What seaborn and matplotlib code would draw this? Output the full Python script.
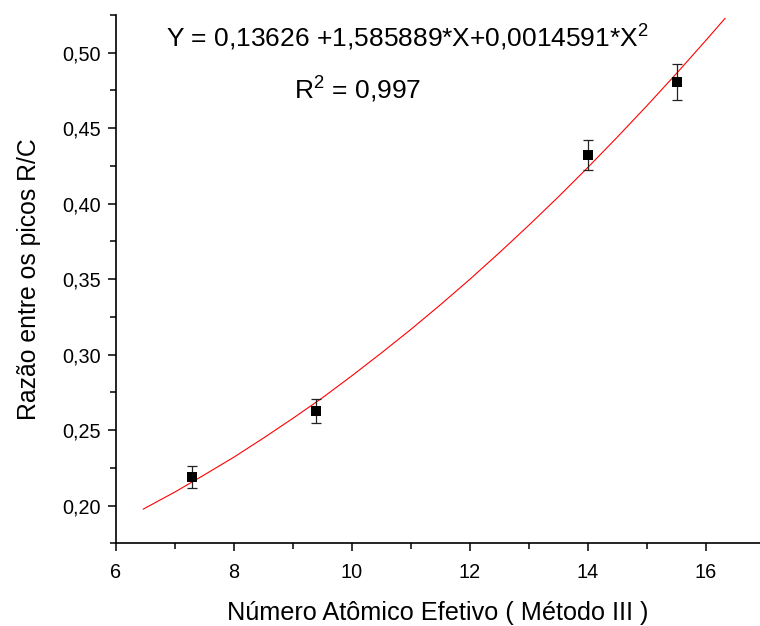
import numpy as np
import pandas as pd
import matplotlib
matplotlib.use("Agg")
import matplotlib.pyplot as plt
import seaborn as sns
from matplotlib.ticker import MultipleLocator

z_ef = [7.29, 9.39, 14.0, 15.51]
razao = [0.2188, 0.2629, 0.4322, 0.4808]
erro = [0.0071, 0.0080, 0.0100, 0.0118]

x_ajuste = [6.46, 7.0, 7.5, 8.0, 8.5, 9.0, 9.5, 10.0, 10.5, 11.0, 11.5, 12.0,
            12.5, 13.0, 13.5, 14.0, 14.5, 15.0, 15.5, 16.0, 16.33]
y_ajuste = [0.1976, 0.2090, 0.2204, 0.2321, 0.2447, 0.2578, 0.2714, 0.2860,
            0.3011, 0.3167, 0.3330, 0.3499, 0.3675, 0.3857, 0.4045, 0.4240,
            0.4441, 0.4648, 0.4861, 0.5081, 0.5229]

x_ticks = [6, 8, 10, 12, 14, 16]
y_ticks = [0.20, 0.25, 0.30, 0.35, 0.40, 0.45, 0.50]
y_labels = ["0,20", "0,25", "0,30", "0,35", "0,40", "0,45", "0,50"]

equacao = "Y = 0,13626 +1,585889*X+0,0014591*X$^2$"
r2 = "R$^2$ = 0,997"

sns.set_style("ticks")
plt.rcParams['font.family'] = ['Liberation Sans', 'DejaVu Sans']
plt.rcParams['mathtext.fontset'] = 'custom'
plt.rcParams['mathtext.rm'] = 'Liberation Sans'
plt.rcParams['text.color'] = 'black'
plt.rcParams['axes.labelcolor'] = 'black'
plt.rcParams['xtick.color'] = 'black'
plt.rcParams['ytick.color'] = 'black'
plt.rcParams['axes.edgecolor'] = 'black'

df_pontos = pd.DataFrame({'x': z_ef, 'y': razao})
df_curva = pd.DataFrame({'x': x_ajuste, 'y': y_ajuste})

fig = plt.figure(figsize=(7.6, 6.26), dpi=100)
ax = fig.add_axes([0.1526, 0.1321, 0.8474, 0.8439])

sns.lineplot(data=df_curva, x='x', y='y', color='red', linewidth=0.8, ax=ax)
ax.errorbar(z_ef, razao, yerr=erro, fmt='none', ecolor='#222222',
            elinewidth=0.9, capsize=3.6, capthick=0.9, zorder=3)
sns.scatterplot(data=df_pontos, x='x', y='y', marker='s', color='black',
                s=60, edgecolor='black', linewidth=0, ax=ax, zorder=4)

ax.set_xlim(6, 16.92)
ax.set_ylim(0.175, 0.525)
ax.set_xticks(x_ticks)
ax.set_yticks(y_ticks)
ax.set_yticklabels(y_labels)
ax.xaxis.set_minor_locator(MultipleLocator(1))
ax.yaxis.set_minor_locator(MultipleLocator(0.025))
ax.tick_params(which='major', length=6, width=1.1, labelsize=14.3)
ax.tick_params(axis='x', which='major', pad=8)
ax.tick_params(axis='y', which='major', pad=5)
ax.tick_params(which='minor', length=4, width=1.1)
sns.despine(ax=ax)
for s in ['left', 'bottom']:
    ax.spines[s].set_linewidth(1.2)

ax.set_xlabel("Número Atômico Efetivo ( Método III )", fontsize=18.2, labelpad=14)
ax.set_ylabel("Razão entre os picos R/C", fontsize=17.8, labelpad=15)

fig.text(0.536, 0.927, equacao, fontsize=19, ha='center', va='baseline')
fig.text(0.470, 0.843, r2, fontsize=19, ha='center', va='baseline')

fig.savefig("out.png", dpi=100)
